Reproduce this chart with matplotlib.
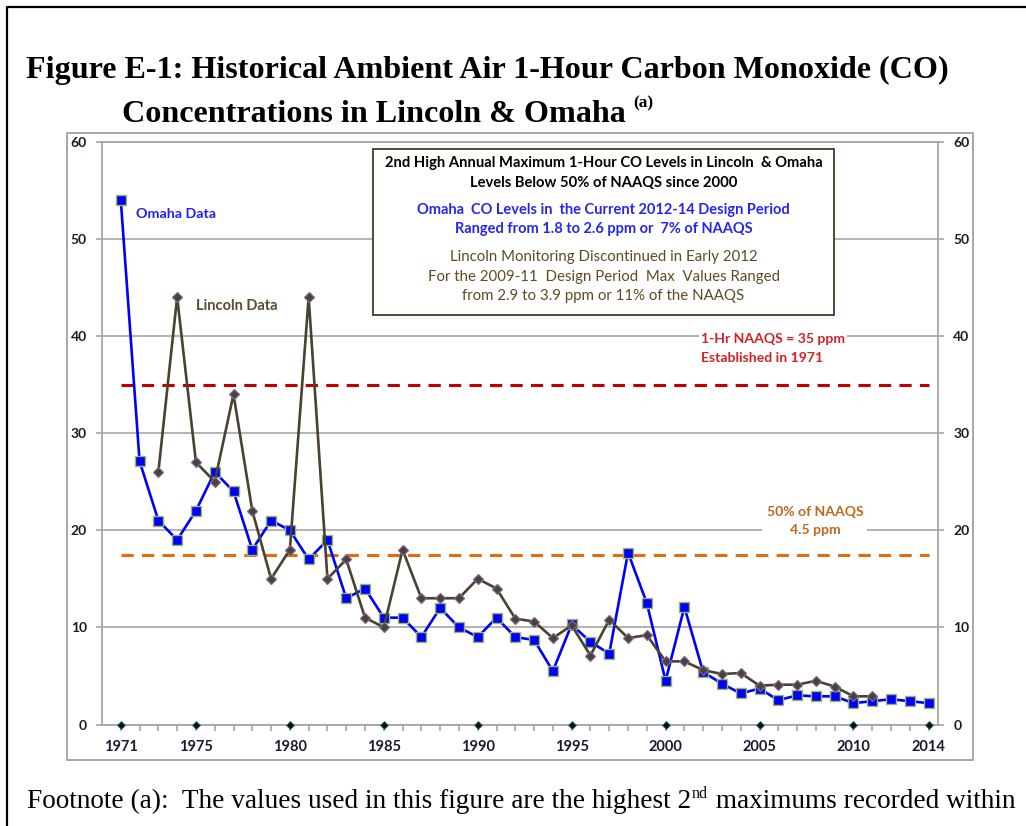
import matplotlib
matplotlib.use('Agg')
import matplotlib.pyplot as plt
from matplotlib.patches import Rectangle
from matplotlib.lines import Line2D

# ---------------- data ----------------
years = list(range(1971, 2015))
omaha = [54, 27.1, 21, 19, 22, 26, 24, 18, 21, 20, 17, 19, 13, 14, 11, 11, 9, 12,
         10, 9, 11, 9, 8.7, 5.5, 10.3, 8.5, 7.3, 17.7, 12.5, 4.5, 12.1, 5.4, 4.2,
         3.2, 3.7, 2.5, 3.0, 2.9, 2.9, 2.2, 2.4, 2.6, 2.4, 2.2]
lincoln_years = list(range(1973, 2012))
lincoln = [26, 44, 27, 25, 34, 22, 15, 18, 44, 15, 17, 11, 10, 18, 13, 13, 13, 15,
           14, 10.9, 10.6, 8.9, 10.2, 7.1, 10.8, 8.9, 9.2, 6.5, 6.5, 5.6, 5.2, 5.3,
           4.0, 4.1, 4.1, 4.5, 3.9, 2.9, 2.9]
label_years = [1971, 1975, 1980, 1985, 1990, 1995, 2000, 2005, 2010, 2014]
naaqs = 35.0
half_naaqs = 17.5
y_ticks = [0, 10, 20, 30, 40, 50, 60]

W, H = 1026, 826
fig = plt.figure(figsize=(W / 100, H / 100), dpi=100)

def fx(px):
    return px / W

def fy(py):
    return 1 - py / H

SANS = 'Lato'
SERIF = 'Liberation Serif'
GRID = '#A6A6A6'
TICKC = '#1a1a30'

# outer document frame (left and top)
fig.add_artist(Line2D([fx(7), fx(7), 1.0], [0.0, fy(7), fy(7)],
                      transform=fig.transFigure, color='black', lw=1.6))
# chart frame
fig.add_artist(Rectangle((fx(67), fy(760)), fx(973) - fx(67), fy(133) - fy(760),
                         transform=fig.transFigure, fill=False,
                         edgecolor='#A0A0A0', lw=1.3))

ax = fig.add_axes([fx(102), fy(724.5), fx(938) - fx(102), fy(141.7) - fy(724.5)])
ax.set_xlim(1970, 2014.5)
ax.set_ylim(0, 60)

for s in ax.spines.values():
    s.set_color(GRID)
    s.set_linewidth(1.3)

ax.set_yticks(y_ticks)
ax.set_yticklabels([str(v) for v in y_ticks])
ax.yaxis.set_ticks_position('both')
ax.tick_params(axis='y', direction='out', length=4, width=1.2, color=GRID,
               labelright=True, labelleft=True, labelsize=10, labelcolor=TICKC,
               pad=7)
for t in ax.yaxis.get_major_ticks():
    t.label2.set_fontfamily(SANS)
    t.label2.set_fontweight('bold')
    t.label1.set_fontfamily(SANS)
    t.label1.set_fontweight('bold')

ax.set_xticks(years)
ax.set_xticklabels([str(y) if y in label_years else '' for y in years])
ax.tick_params(axis='x', direction='out', length=4, width=1.2, color=GRID,
               labelsize=10.5, labelcolor=TICKC, pad=7.5)
for lab in ax.get_xticklabels():
    lab.set_fontfamily(SANS)
    lab.set_fontweight('bold')

ax.grid(axis='y', color=GRID, lw=1.2, zorder=0)
ax.set_axisbelow(True)

# reference lines
ax.plot([years[0], years[-1]], [naaqs, naaqs], color='#C00000', lw=2.2,
        dashes=(4, 2.7), zorder=2)
ax.plot([years[0], years[-1]], [half_naaqs, half_naaqs], color='#E46C0A', lw=2.2,
        dashes=(4, 2.7), zorder=2)

# data series
ax.plot(years, omaha, color='#0000FF', lw=1.9, marker='s', ms=7.5,
        markerfacecolor='#0000FF', markeredgecolor='#9BBB59', markeredgewidth=1.0,
        zorder=4, clip_on=False)
ax.plot(lincoln_years, lincoln, color='#47432E', lw=1.9, marker='D', ms=5.5,
        markerfacecolor='#4A4040', markeredgecolor='#7D6A8A', markeredgewidth=0.9,
        zorder=5, clip_on=False)

# small markers on the x axis at labeled years
ax.plot(label_years, [0] * len(label_years), linestyle='none', marker='D', ms=3.8,
        markerfacecolor='#101010', markeredgecolor='#1F6F7F', markeredgewidth=0.6,
        zorder=6, clip_on=False)

# series labels
ax.text(1971.8, 52.6, 'Omaha Data', color='#1F1FFF', fontsize=10.3,
        fontfamily=SANS, fontweight='bold', va='center', ha='left', zorder=7)
ax.text(1975.0, 43.1, 'Lincoln Data', color='#5A4B2E', fontsize=10.5,
        fontfamily=SANS, fontweight='bold', va='center', ha='left', zorder=7)

# NAAQS labels
ax.text(2001.9, 38.7, '1-Hr NAAQS = 35 ppm\nEstablished in 1971', color='#D42027',
        fontsize=10.1, fontfamily=SANS, fontweight='bold', va='center', ha='left',
        linespacing=1.65, zorder=3,
        bbox=dict(boxstyle='square,pad=0.15', facecolor='white', edgecolor='none'))
ax.text(2007.95, 20.9, '50% of NAAQS\n4.5 ppm', color='#C0661E',
        fontsize=10.1, fontfamily=SANS, fontweight='bold', va='center', ha='center',
        linespacing=1.6, zorder=3,
        bbox=dict(boxstyle='square,pad=0.3', facecolor='white', edgecolor='none'))

# info box
bx0, bx1 = fx(373), fx(834)
by0, by1 = fy(315), fy(149)
fig.add_artist(Rectangle((bx0, by0), bx1 - bx0, by1 - by0, transform=fig.transFigure,
                         facecolor='white', edgecolor='#4F4A35', lw=1.4, zorder=10))
cx = fx(603.5)
box_lines = [
    (163, '2nd High Annual Maximum 1-Hour CO Levels in Lincoln  & Omaha', 'black', 'bold', 10.6),
    (183, 'Levels Below 50% of NAAQS since 2000', 'black', 'bold', 10.6),
    (210, 'Omaha  CO Levels in  the Current 2012-14 Design Period', '#2626F0', 'bold', 10.5),
    (229, 'Ranged from 1.8 to 2.6 ppm or  7% of NAAQS', '#2626F0', 'bold', 10.5),
    (257, 'Lincoln Monitoring Discontinued in Early 2012', '#5E4B22', 'normal', 10.8),
    (277, 'For the 2009-11  Design Period  Max  Values Ranged', '#5E4B22', 'normal', 10.8),
    (296, 'from 2.9 to 3.9 ppm or 11% of the NAAQS', '#5E4B22', 'normal', 10.8),
]
for py, txt, col, wt, fs in box_lines:
    fig.text(cx, fy(py), txt, color=col, fontsize=fs, fontfamily=SANS, fontweight=wt,
             ha='center', va='center', zorder=11)

# titles
fig.text(fx(26), fy(78), 'Figure E-1: Historical Ambient Air 1-Hour Carbon Monoxide (CO)',
         fontsize=23.1, fontfamily=SERIF, fontweight='bold', ha='left', va='baseline')
t2 = fig.text(fx(122), fy(122), 'Concentrations in Lincoln & Omaha',
              fontsize=23.1, fontfamily=SERIF, fontweight='bold', ha='left', va='baseline')

# footnote pieces
f1 = fig.text(fx(27), fy(808), 'Footnote (a):  The values used in this figure are the highest 2',
              fontsize=19.6, fontfamily=SERIF, ha='left', va='baseline')

fig.canvas.draw()
r = fig.canvas.get_renderer()
e2 = t2.get_window_extent(r)
fig.text((e2.x1 + 7) / W, fy(107), '(a)', fontsize=12.5, fontfamily=SERIF,
         fontweight='bold', ha='left', va='baseline')
ef = f1.get_window_extent(r)
sup = fig.text((ef.x1 + 1) / W, fy(798), 'nd', fontsize=11.5, fontfamily=SERIF,
               ha='left', va='baseline')
fig.canvas.draw()
es = sup.get_window_extent(r)
fig.text((es.x1 + 1) / W, fy(808), ' maximums recorded within', fontsize=19.6,
         fontfamily=SERIF, ha='left', va='baseline')

fig.savefig('out.png', dpi=100, facecolor='white')
